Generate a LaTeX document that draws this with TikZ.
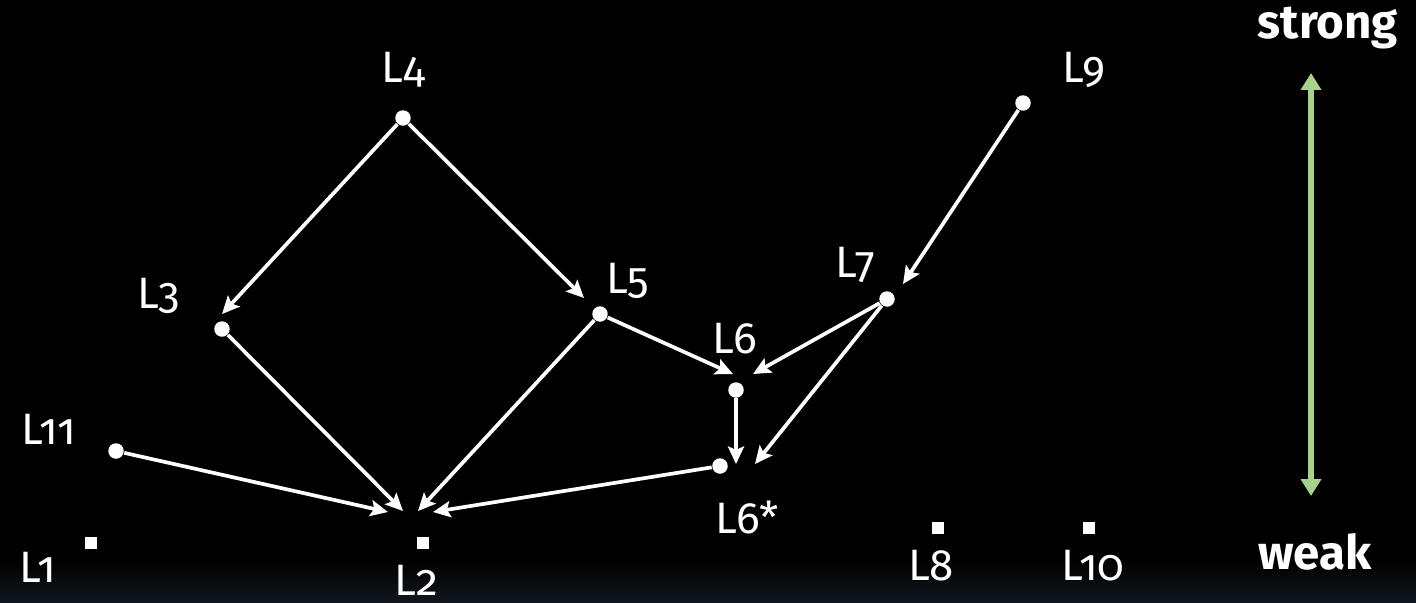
\documentclass[tikz,border=0pt]{standalone}
\usepackage{fontspec}
\setmainfont{Fira Sans}[Numbers=OldStyle]
\usepackage{tikz}
\usetikzlibrary{arrows.meta}
\definecolor{scalegreen}{HTML}{A9D18E}
\definecolor{floor}{HTML}{11161F}
\tikzset{
  dot/.style ={circle, fill=white, inner sep=0pt, minimum size=4.4pt},
  sq/.style  ={rectangle, fill=white, inner sep=0pt, minimum size=3.4pt},
  lbl/.style ={text=white, anchor=base, inner sep=0pt, font=\fontsize{12.5}{14}\selectfont},
  lblb/.style={lbl, font=\fontsize{13.5}{15}\selectfont\bfseries},
  edge/.style={-{Stealth[length=5pt, width=4.6pt, inset=1pt]}, white, line width=1.05pt},
  strength/.style={{Triangle[length=4.8pt, width=5.6pt]}-{Triangle[length=4.8pt, width=5.6pt]}, scalegreen, line width=1.6pt},
}

\begin{document}
\begin{tikzpicture}[x=0.01cm, y=-0.01cm]
        \fill[black] (0,0) rectangle (1416,602);
        \shade[top color=black, bottom color=floor] (0,560) rectangle (1416,602);
        \useasboundingbox (0,0) rectangle (1416,602);
        % levels
        \node[dot] (L4)  at (403,118) {};
        \node[dot] (L3)  at (222,329) {};
        \node[dot] (L5)  at (600,314) {};
        \node[dot] (L6)  at (736,390) {};
        \node[dot] (L6s) at (720,466) {};
        \node[dot] (L7)  at (887,299) {};
        \node[dot] (L9)  at (1023,103) {};
        \node[dot] (L11) at (116,451) {};
        \node[sq]  (L1)  at (91,543) {};
        \node[sq]  (L2)  at (423,543) {};
        \node[sq]  (L8)  at (938,528) {};
        \node[sq]  (L10) at (1089,528) {};
        \node[lbl] (tL4)  at (403,82)  {L4};
        \node[lbl] (tL3)  at (159,308) {L3};
        \node[lbl] (tL5)  at (628,293) {L5};
        \node[lbl] (tL6)  at (735,353) {L6};
        \node[lbl] (tL6s) at (747,533) {L6*};
        \node[lbl] (tL7)  at (855,277) {L7};
        \node[lbl] (tL9)  at (1084,82) {L9};
        \node[lbl] (tL11) at (49,444)  {L11};
        \node[lbl] (tL1)  at (38,582)  {L1};
        \node[lbl] (tL2)  at (416,595) {L2};
        \node[lbl] (tL8)  at (931,580) {L8};
        \node[lbl] (tL10) at (1093,580) {L10};
        % arrow tips
        \coordinate (in43)  at (222,314);
        \coordinate (in45)  at (584,298);
        \coordinate (in56)  at (733,374);
        \coordinate (in76)  at (753,374);
        \coordinate (in66s) at (736,464);
        \coordinate (in76s) at (755,464);
        \coordinate (in97)  at (903,284);
        \coordinate (in112) at (388,512);
        \coordinate (in32)  at (403,511);
        \coordinate (in52)  at (418,511);
        \coordinate (in6s2) at (433,512);
        \draw[edge] (L4) -- (in43);
        \draw[edge] (L4) -- (in45);
        \draw[edge] (L5) -- (in56);
        \draw[edge] (L7) -- (in76);
        \draw[edge] (L6) -- (in66s);
        \draw[edge] (L7) -- (in76s);
        \draw[edge] (L9) -- (in97);
        \draw[edge] (L11) -- (in112);
        \draw[edge] (L3) -- (in32);
        \draw[edge] (L5) -- (in52);
        \draw[edge] (L6s) -- (in6s2);
        % strength scale
        \node[lblb] (strong) at (1328,38)  {strong};
        \node[lblb] (weak)   at (1315,569) {weak};
        \coordinate (top) at (1311,73);
        \coordinate (bot) at (1311,496);
        \draw[strength] (top) -- (bot);
      \end{tikzpicture}
\end{document}
